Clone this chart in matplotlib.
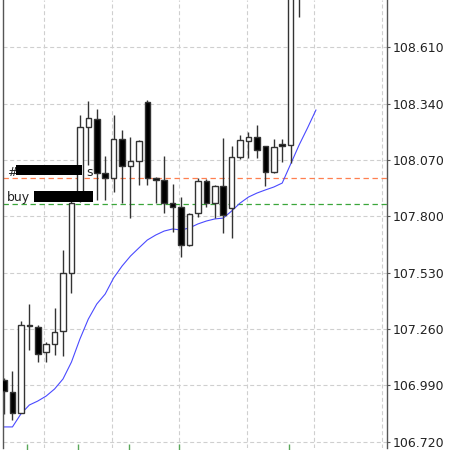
import matplotlib
matplotlib.use('Agg')
import matplotlib.pyplot as plt
from matplotlib.patches import Rectangle

# ---- data ----
opens  = [107.015, 106.957, 106.857, 107.278, 107.269, 107.149, 107.187, 107.250, 107.528, 107.878,
          108.228, 108.266, 108.007, 107.983, 108.170, 108.041, 108.065, 108.348, 107.983, 107.974,
          107.863, 107.844, 107.662, 107.815, 107.969, 107.863, 107.945, 107.839, 108.084, 108.161,
          108.180, 108.137, 108.012, 108.146, 108.141, 108.980]
highs  = [107.024, 107.058, 107.298, 107.379, 107.278, 107.197, 107.360, 107.638, 107.873, 108.285,
          108.352, 108.314, 108.089, 108.285, 108.213, 108.180, 108.165, 108.357, 107.988, 108.089,
          107.954, 107.892, 107.815, 107.983, 107.978, 107.950, 108.175, 108.137, 108.189, 108.204,
          108.237, 108.137, 108.170, 108.170, 109.052, 109.220]
lows   = [106.852, 106.823, 106.857, 107.159, 107.101, 107.101, 107.135, 107.130, 107.432, 107.868,
          108.046, 107.878, 107.878, 107.916, 107.863, 107.791, 107.950, 107.950, 107.863, 107.815,
          107.724, 107.604, 107.657, 107.796, 107.844, 107.791, 107.720, 107.696, 108.074, 108.079,
          108.079, 107.945, 108.007, 108.060, 108.055, 108.755]
closes = [106.962, 106.857, 107.278, 107.274, 107.139, 107.187, 107.245, 107.528, 107.863, 108.228,
          108.271, 108.007, 107.983, 108.170, 108.041, 108.065, 108.161, 107.983, 107.974, 107.863,
          107.844, 107.662, 107.811, 107.969, 107.863, 107.945, 107.806, 108.084, 108.165, 108.180,
          108.117, 108.012, 108.132, 108.137, 108.980, 109.124]
ma_values = [106.790, 106.790, 106.852, 106.895, 106.914, 106.938, 106.972, 107.020, 107.101, 107.211,
             107.307, 107.379, 107.427, 107.504, 107.561, 107.609, 107.648, 107.686, 107.710, 107.729,
             107.739, 107.734, 107.744, 107.763, 107.777, 107.787, 107.791, 107.825, 107.863, 107.892,
             107.911, 107.926, 107.940, 107.959, 108.050, 108.141, 108.223, 108.309]
ytick_vals = [106.72, 106.99, 107.26, 107.53, 107.80, 108.07, 108.34, 108.61]
ytick_labels = ['106.720', '106.990', '107.260', '107.530', '107.800', '108.070', '108.340', '108.610']
sell_level = 107.982
buy_level = 107.859
label_sell_left = '#'
label_sell_right = 's'
label_buy = 'buy'

# ---- figure ----
W = H = 450
fig = plt.figure(figsize=(4.5, 4.5), dpi=100)
ax = fig.add_axes([3 / W, 2 / H, 384 / W, 448 / H])
ax.set_xlim(-0.12, 45.43)
ax.set_ylim(106.689, 108.8365)

# grid
grid_kw = dict(color='#cfcfcf', lw=0.8, dashes=(3.6, 2.4), zorder=0.5)
for xv in [4.75, 12.8, 20.75, 28.8, 36.8, 44.8]:
    ax.axvline(xv, **grid_kw)
for yv in ytick_vals:
    ax.axhline(yv, **grid_kw)

# order levels
ax.axhline(sell_level, color='#ff7f4f', lw=0.9, dashes=(4.3, 2.9), zorder=1)
ax.axhline(buy_level, color='#3aa63a', lw=0.9, dashes=(4.3, 2.9), zorder=1)

# moving average
ax.plot(range(len(ma_values)), ma_values, color='#4a4aff', lw=0.8, zorder=1.5)

# candles
for i, (o, h, l, c) in enumerate(zip(opens, highs, lows, closes)):
    ax.vlines(i, l, h, color='#333333', lw=1.0, zorder=2)
    bull = c >= o
    bottom = min(o, c)
    height = max(abs(c - o), 0.0015)
    ax.add_patch(Rectangle((i - 0.33, bottom), 0.66, height,
                           facecolor='white' if bull else 'black',
                           edgecolor='#333333', lw=1.0, zorder=3))

# axis styling
for s in ['top', 'bottom']:
    ax.spines[s].set_visible(False)
for s in ['left', 'right']:
    ax.spines[s].set_color('#555555')
    ax.spines[s].set_linewidth(1.0)
ax.yaxis.tick_right()
ax.set_yticks(ytick_vals)
ax.set_yticklabels(ytick_labels)
ax.tick_params(axis='y', direction='out', length=2.5, width=0.8, color='#555555',
               labelsize=9, labelcolor='#222222', pad=1.5)
ax.set_xticks([2.73, 8.78, 14.83, 20.76, 33.8])
ax.tick_params(axis='x', direction='inout', length=6, width=1.0, color='#5aa85a',
               labelbottom=False)

# labels with black boxes (figure pixel coordinates)
def fx(px):
    return px / W

def fy(py):
    return 1 - py / H

fig.text(fx(7), fy(176), label_sell_left, fontsize=9, color='#222222', va='baseline', ha='left')
fig.patches.append(Rectangle((fx(16), fy(175)), fx(82) - fx(16), fy(165) - fy(175),
                             transform=fig.transFigure, facecolor='black', edgecolor='none', zorder=5))
fig.text(fx(86), fy(176), label_sell_right, fontsize=9, color='#222222', va='baseline', ha='left')
fig.text(fx(7), fy(201), label_buy, fontsize=9, color='#222222', va='baseline', ha='left')
fig.patches.append(Rectangle((fx(34), fy(202)), fx(93) - fx(34), fy(191) - fy(202),
                             transform=fig.transFigure, facecolor='black', edgecolor='none', zorder=5))

fig.savefig('out.png', dpi=100, facecolor='white')
